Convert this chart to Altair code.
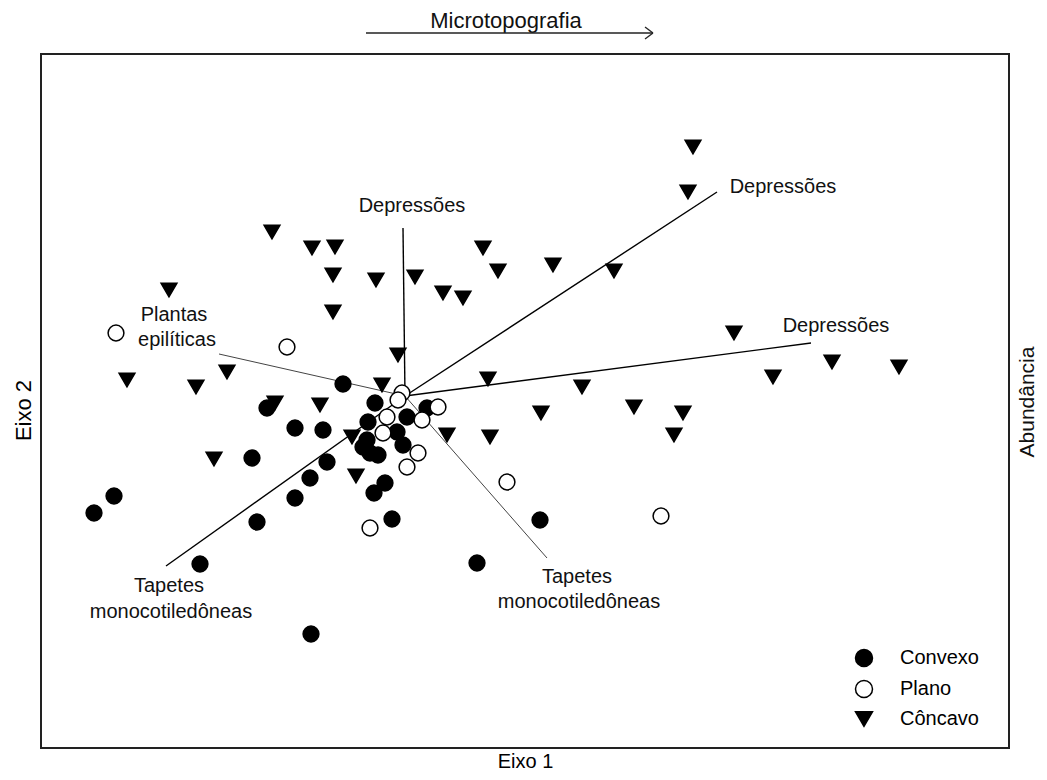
import altair as alt
import pandas as pd

# ---- data (ordination scores) ----
concavo_x = [2.88, 2.83, -1.33, -0.93, -0.70, 0.78, -0.72, -0.29, 0.10, 0.93, 1.48, 2.09, -2.36, 0.38,
             0.58, -0.72, 3.29, -0.07, -2.78, -2.09, -1.78, -0.23, 0.83, 1.77, 3.68, 4.27, 4.94, -1.30,
             -0.85, 1.36, 2.29, 2.78, 2.69, 0.42, 0.85, -1.91, -0.49, -0.53]
concavo_y = [2.49, 2.04, 1.64, 1.48, 1.49, 1.48, 1.21, 1.16, 1.19, 1.25, 1.31, 1.25, 1.06, 1.03,
             0.98, 0.84, 0.63, 0.41, 0.16, 0.09, 0.24, 0.11, 0.17, 0.09, 0.19, 0.34, 0.29, -0.07,
             -0.09, -0.17, -0.11, -0.17, -0.39, -0.39, -0.41, -0.63, -0.80, -0.41]

convexo_x = [-0.62, -0.30, 0.22, 0.02, -0.37, -0.08, -0.02, -0.38, -0.42, -0.35, -0.27, -0.78, -0.95,
             -1.10, -1.53, -1.10, -0.82, -1.38, -1.48, -0.20, -0.31, -0.13, -3.11, -2.91, -2.05, -0.94,
             1.35, 0.72]
convexo_y = [0.12, -0.07, -0.12, -0.21, -0.26, -0.36, -0.49, -0.44, -0.51, -0.57, -0.59, -0.66, -0.82,
             -1.02, -0.62, -0.32, -0.34, -0.12, -1.26, -0.87, -0.97, -1.23, -1.17, -1.00, -1.68, -2.38,
             -1.24, -1.67]

plano_x = [-2.89, -1.18, -0.03, -0.07, 0.33, -0.18, 0.17, -0.22, 0.13, 0.02, -0.35, 1.02, 2.56]
plano_y = [0.63, 0.49, 0.03, -0.04, -0.11, -0.21, -0.24, -0.37, -0.57, -0.71, -1.32, -0.86, -1.20]

categories = ["Convexo", "Plano", "Côncavo"]

vec_names = ["Depressões 1", "Depressões 2", "Depressões 3", "Plantas epilíticas",
             "Tapetes monocotiledôneas 1", "Tapetes monocotiledôneas 2"]
vec_x = [-0.02, 3.12, 4.06, -1.86, -2.39, 1.42]
vec_y = [1.68, 2.04, 0.53, 0.42, -1.70, -1.62]
light_vectors = ["Plantas epilíticas", "Tapetes monocotiledôneas 2"]

label_text = ["Depressões", "Depressões", "Depressões", "Plantas", "epilíticas",
              "Tapetes", "monocotiledôneas", "Tapetes", "monocotiledôneas"]
label_x = [0.07, 3.78, 4.31, -2.31, -2.28, -2.36, -2.34, 1.72, 1.74]
label_y = [1.90, 2.09, 0.70, 0.81, 0.56, -1.90, -2.16, -1.81, -2.06]

x_domain = [-3.64, 6.04]
y_domain = [-3.52, 3.42]

title_text = "Microtopografia"
title_pos = [1.01, 3.75]
arrow_x = [-0.39, 2.48]
arrow_y = 3.63
arrow_head = [[2.40, 3.69], [2.40, 3.57]]
right_title = "Abundância"
right_title_pos = [6.23, -0.06]

FONT = "Liberation Sans"

# ---- tables ----
pts = pd.concat([
    pd.DataFrame({"x": concavo_x, "y": concavo_y, "grupo": "Côncavo"}),
    pd.DataFrame({"x": convexo_x, "y": convexo_y, "grupo": "Convexo"}),
    pd.DataFrame({"x": plano_x, "y": plano_y, "grupo": "Plano"}),
], ignore_index=True)
pts["ordem"] = range(len(pts))

vecs = pd.DataFrame({"nome": vec_names, "x0": 0.0, "y0": 0.0, "x": vec_x, "y": vec_y})
vecs["leve"] = vecs["nome"].isin(light_vectors)

labels = pd.DataFrame({"t": label_text, "x": label_x, "y": label_y})

xs = alt.Scale(domain=x_domain, nice=False, zero=False)
ys = alt.Scale(domain=y_domain, nice=False, zero=False)

X = alt.X("x:Q", scale=xs, axis=alt.Axis(title="Eixo 1", labels=False, ticks=False, domain=False,
                                         grid=False, titleFontSize=20, titleFont=FONT,
                                         titleFontWeight="normal", titleColor="black",
                                         titlePadding=3))
Y = alt.Y("y:Q", scale=ys, axis=alt.Axis(title="Eixo 2", labels=False, ticks=False, domain=False,
                                         grid=False, titleFontSize=22, titleFont=FONT,
                                         titleFontWeight="normal", titleColor="black",
                                         titlePadding=6, titleY=356))

vec_dark = alt.Chart(vecs).transform_filter("!datum.leve").mark_rule(
    color="black", strokeWidth=1.4).encode(
    x=X, y=Y, x2="x0:Q", y2="y0:Q")
vec_light = alt.Chart(vecs).transform_filter("datum.leve").mark_rule(
    color="#444444", strokeWidth=1).encode(
    x=X, y=Y, x2="x0:Q", y2="y0:Q")

legend = alt.Legend(orient="none", legendX=813, legendY=594, title=None,
                    labelFontSize=20, labelFont=FONT, labelColor="black",
                    labelOffset=26, rowPadding=7, symbolSize=289,
                    symbolStrokeWidth=1.5, padding=0)

points = alt.Chart(pts).mark_point(filled=True, strokeWidth=1.5, opacity=1,
                                   size=250).encode(
    x=X, y=Y,
    shape=alt.Shape("grupo:N", scale=alt.Scale(domain=categories,
                                               range=["circle", "circle", "triangle-down"]),
                    legend=legend),
    fill=alt.Fill("grupo:N", scale=alt.Scale(domain=categories, range=["black", "white", "black"]),
                  legend=legend),
    stroke=alt.Stroke("grupo:N", scale=alt.Scale(domain=categories, range=["black", "black", "black"]),
                      legend=legend),
    order=alt.Order("ordem:Q"),
)

texts = alt.Chart(labels).mark_text(font=FONT, fontSize=20, color="#111111",
                                    align="center", baseline="middle").encode(
    x=X, y=Y, text="t:N")

title_df = pd.DataFrame({"t": [title_text], "x": [title_pos[0]], "y": [title_pos[1]]})
title_mark = alt.Chart(title_df).mark_text(font=FONT, fontSize=22, color="#111111",
                                           align="center", baseline="middle").encode(
    x=X, y=Y, text="t:N")

arrow_df = pd.DataFrame({"x": [arrow_x[0], arrow_head[0][0], arrow_head[1][0]],
                         "x2": [arrow_x[1], arrow_x[1], arrow_x[1]],
                         "y": [arrow_y, arrow_head[0][1], arrow_head[1][1]],
                         "y2": [arrow_y, arrow_y, arrow_y]})
arrow = alt.Chart(arrow_df).mark_rule(color="#222222", strokeWidth=1.3).encode(
    x=X, y=Y, x2="x2:Q", y2="y2:Q")

right_df = pd.DataFrame({"t": [right_title], "x": [right_title_pos[0]], "y": [right_title_pos[1]]})
right_mark = alt.Chart(right_df).mark_text(font=FONT, fontSize=21, color="#111111", angle=270,
                                           align="center", baseline="middle").encode(
    x=X, y=Y, text="t:N")

chart = alt.layer(vec_light, vec_dark, points, texts, title_mark, arrow, right_mark).properties(
    width=968, height=694,
    background="white",
    autosize=alt.AutoSizeParams(type="none"),
    padding={"left": 33, "top": 46, "right": 30, "bottom": 24},
).configure_view(stroke="#222222", strokeWidth=2)

chart.save("out.html", embed_options={"renderer": "svg", "actions": False})
